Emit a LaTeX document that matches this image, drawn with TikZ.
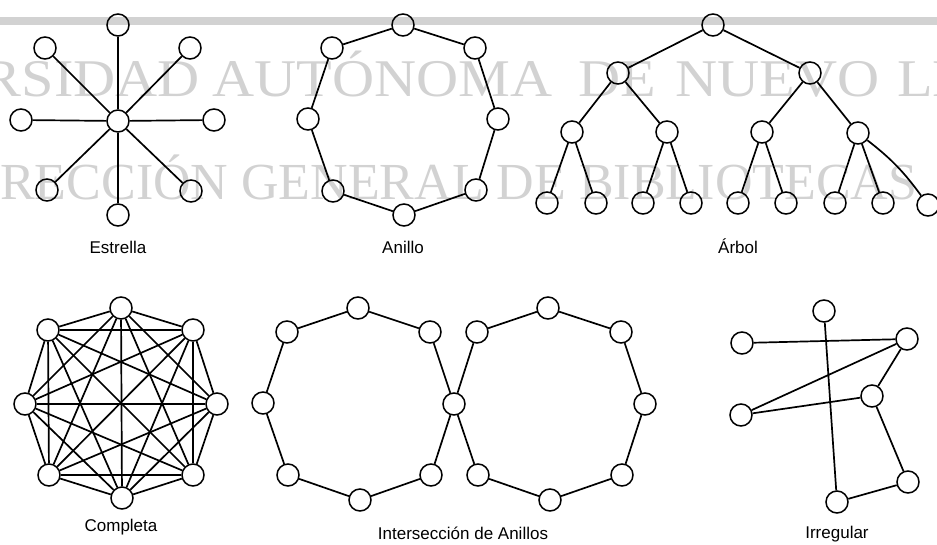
\documentclass[tikz,border=0pt]{standalone}
\usepackage{fontspec}
\setmainfont{Liberation Serif}
\newfontfamily\lblfont{Liberation Sans}
\definecolor{wmgray}{RGB}{210,210,210}
\newcommand{\wmword}[1]{\scalebox{1.1}[1]{#1}}
\begin{document}
\begin{tikzpicture}[x=1pt,y=-1pt,
  nd/.style={circle,draw,line width=1.5pt,minimum size=22pt,inner sep=0pt},
  ed/.style={line width=1.7pt},
  lbl/.style={font=\lblfont\fontsize{17}{20}\selectfont,inner sep=0pt,anchor=base},
  wm/.style={font=\fontsize{52}{60}\selectfont,text=wmgray,inner sep=0pt,anchor=base west},
  wmw/.style={font=\fontsize{53}{60}\selectfont,text=wmgray,inner sep=0pt,anchor=base west}]
\useasboundingbox (0,0) rectangle (937,545);
\clip (0,0) rectangle (937,545);
% watermark
\fill[wmgray] (0,17) rectangle (937,25);
\node[wmw,anchor=base east] (wm1a) at (200,97) {\wmword{UNIVERSIDAD}};
\node[wmw] (wm1b) at (212,97) {\wmword{AUTÓNOMA}};
\node[wmw] (wm1c) at (578,97) {\wmword{DE}};
\node[wmw] (wm1d) at (675,97) {\wmword{NUEVO}};
\node[wmw] (wm1e) at (897,97) {\wmword{LEÓN}};
\node[wm] (wm2) at (0,200) {\llap{DI}RECCIÓN GENERAL DE BIBLIOTECAS};
% Estrella
\node[nd] (s0) at (118,121) {};
\node[nd] (s1) at (118,25) {};
\node[nd] (s2) at (190,48) {};
\node[nd] (s3) at (214,120) {};
\node[nd] (s4) at (191,191) {};
\node[nd] (s5) at (118,215) {};
\node[nd] (s6) at (47,190) {};
\node[nd] (s7) at (21,120) {};
\node[nd] (s8) at (45,48) {};
\foreach \i in {1,...,8} \draw[ed] (s0) -- (s\i);
\node[lbl] (ls) at (118,254) {Estrella};
% Anillo
\node[nd] (a1) at (403,25) {};
\node[nd] (a2) at (475,48) {};
\node[nd] (a3) at (498,119) {};
\node[nd] (a4) at (476,190) {};
\node[nd] (a5) at (404,215) {};
\node[nd] (a6) at (333,191) {};
\node[nd] (a7) at (308,119) {};
\node[nd] (a8) at (332,48) {};
\draw[ed] (a1)--(a2) (a2)--(a3) (a3)--(a4) (a4)--(a5) (a5)--(a6) (a6)--(a7) (a7)--(a8) (a8)--(a1);
\node[lbl] (la) at (403,254) {Anillo};
% Arbol
\node[nd] (t0) at (713,25) {};
\node[nd] (t1) at (618,73) {};
\node[nd] (t2) at (810,73) {};
\node[nd] (t3) at (572,132) {};
\node[nd] (t4) at (667,132) {};
\node[nd] (t5) at (762,132) {};
\node[nd] (t6) at (858,133) {};
\node[nd] (t7) at (547,203) {};
\node[nd] (t8) at (596,203) {};
\node[nd] (t9) at (643,203) {};
\node[nd] (t10) at (691,203) {};
\node[nd] (t11) at (738,203) {};
\node[nd] (t12) at (786,203) {};
\node[nd] (t13) at (835,203) {};
\node[nd] (t14) at (883,203) {};
\node[nd] (t15) at (928,205) {};
\draw[ed] (t0)--(t1) (t0)--(t2) (t1)--(t3) (t1)--(t4) (t2)--(t5) (t2)--(t6)
  (t3)--(t7) (t3)--(t8) (t4)--(t9) (t4)--(t10) (t5)--(t11) (t5)--(t12)
  (t6)--(t13) (t6)--(t14);
\draw[ed] (t6) to[bend left=8] (t15);
\node[lbl] (lt) at (738,254) {Árbol};
% Completa
\node[nd] (c1) at (121,308) {};
\node[nd] (c2) at (193,330) {};
\node[nd] (c3) at (217,404) {};
\node[nd] (c4) at (193,475) {};
\node[nd] (c5) at (122,498) {};
\node[nd] (c6) at (49,475) {};
\node[nd] (c7) at (25,404) {};
\node[nd] (c8) at (48,330) {};
\foreach \i in {1,...,7}{
  \pgfmathtruncatemacro\kk{\i+1}
  \foreach \j in {\kk,...,8} \draw[ed] (c\i) -- (c\j);
}
\node[lbl] (lc) at (121,531) {Completa};
% Interseccion de anillos
\node[nd] (x0) at (454,404) {};
\node[nd] (i1) at (358,308) {};
\node[nd] (i2) at (430,332) {};
\node[nd] (i4) at (431,475) {};
\node[nd] (i5) at (360,500) {};
\node[nd] (i6) at (288,475) {};
\node[nd] (i7) at (263,403) {};
\node[nd] (i8) at (287,332) {};
\node[nd] (j1) at (477,332) {};
\node[nd] (j2) at (548,308) {};
\node[nd] (j3) at (621,332) {};
\node[nd] (j4) at (645,404) {};
\node[nd] (j5) at (622,475) {};
\node[nd] (j6) at (550,500) {};
\node[nd] (j7) at (478,475) {};
\draw[ed] (i1)--(i2) (i2)--(x0) (x0)--(i4) (i4)--(i5) (i5)--(i6) (i6)--(i7) (i7)--(i8) (i8)--(i1);
\draw[ed] (x0)--(j1) (j1)--(j2) (j2)--(j3) (j3)--(j4) (j4)--(j5) (j5)--(j6) (j6)--(j7) (j7)--(x0);
\node[lbl] (li) at (463,539) {Intersección de Anillos};
% Irregular
\node[nd] (r1) at (824,311) {};
\node[nd] (r2) at (742,343) {};
\node[nd] (r3) at (907,339) {};
\node[nd] (r4) at (741,415) {};
\node[nd] (r5) at (872,396) {};
\node[nd] (r6) at (837,502) {};
\node[nd] (r7) at (908,482) {};
\draw[ed] (r2)--(r3) (r1)--(r6) (r3)--(r4) (r4)--(r5) (r3)--(r5) (r5)--(r7) (r7)--(r6);
\node[lbl] (lr) at (837,538) {Irregular};
\end{tikzpicture}
\end{document}
